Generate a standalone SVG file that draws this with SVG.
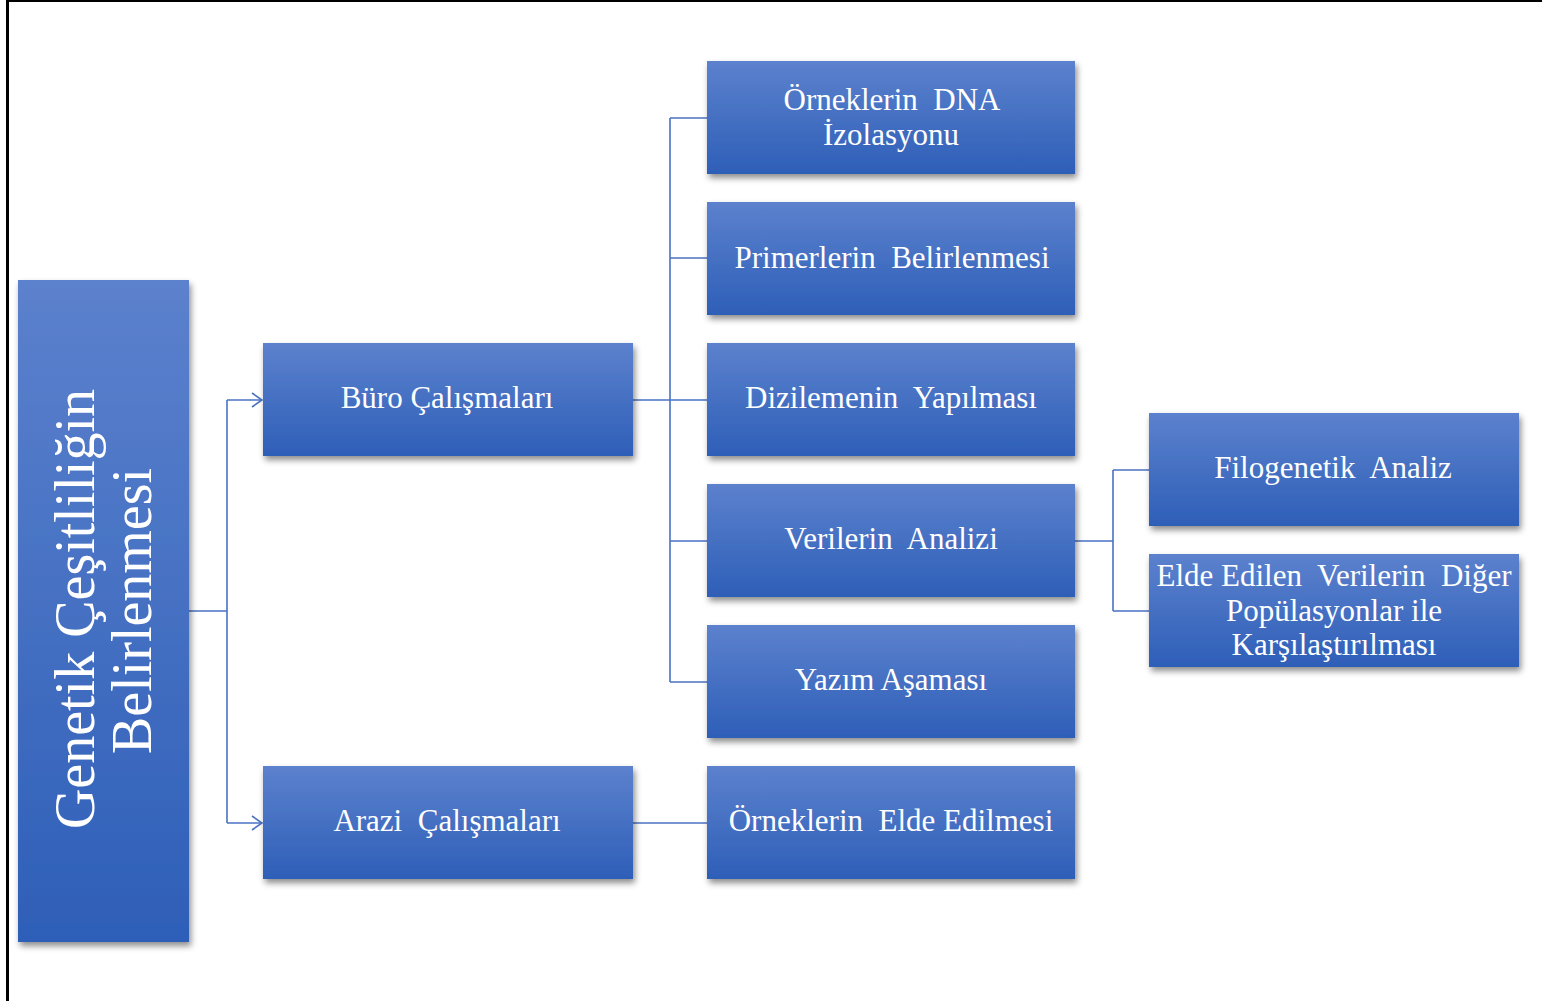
<svg xmlns="http://www.w3.org/2000/svg" width="1542" height="1001" viewBox="0 0 1542 1001">
<style>
.box{fill:url(#g);filter:url(#sh)}
.t{font-family:"Liberation Serif","Times New Roman",serif;font-size:31px;fill:#fff;text-anchor:middle;white-space:pre}
.big{font-size:56px}
.c{fill:none;stroke:#4a72c4;stroke-width:1.6}
</style>
<defs>
<linearGradient id="g" x1="0" y1="0" x2="0" y2="1">
<stop offset="0" stop-color="#5c81cd"/>
<stop offset="1" stop-color="#2e5fb8"/>
</linearGradient>
<filter id="sh" x="-10%" y="-10%" width="130%" height="130%">
<feDropShadow dx="2" dy="4" stdDeviation="3" flood-color="#000" flood-opacity="0.45"/>
</filter>
<marker id="ar" viewBox="0 0 12 16" refX="11" refY="8" markerWidth="12" markerHeight="16" markerUnits="userSpaceOnUse" orient="auto">
<path d="M1,1 L11,8 L1,15" fill="none" stroke="#4a72c4" stroke-width="1.6"/>
</marker>
</defs>
<rect width="1542" height="1001" fill="#fff"/>
<line x1="7.5" y1="0" x2="7.5" y2="1001" stroke="#000" stroke-width="3"/>
<line x1="6" y1="1" x2="1542" y2="1" stroke="#000" stroke-width="2"/>
<g id="connectors">
<path class="c" d="M189,611 H227 M227,400 V823"/>
<path class="c" d="M227,400 H262" marker-end="url(#ar)"/>
<path class="c" d="M227,823 H262" marker-end="url(#ar)"/>
<path class="c" d="M633,400 H707 M670,118 V682 M670,118 H707 M670,258 H707 M670,541 H707 M670,682 H707"/>
<path class="c" d="M633,823 H707"/>
<path class="c" d="M1075,541 H1113 M1113,470 V611 M1113,470 H1149 M1113,611 H1149"/>
</g>
<g id="n-root"><rect class="box" x="18" y="280" width="171" height="662"/>
<text class="t big" transform="translate(94,609) rotate(-90)">Genetik Çeşitliliğin</text>
<text class="t big" transform="translate(151,611) rotate(-90)">Belirlenmesi</text></g>
<g id="n-buro"><rect class="box" x="263" y="343" width="370" height="113"/><text class="t" x="447" y="408">Büro Çalışmaları</text></g>
<g id="n-arazi"><rect class="box" x="263" y="766" width="370" height="113"/><text class="t" x="447" y="831">Arazi  Çalışmaları</text></g>
<g id="n-dna"><rect class="box" x="707" y="61" width="368" height="113"/><text class="t" x="892" y="110">Örneklerin  DNA</text><text class="t" x="891" y="145">İzolasyonu</text></g>
<g id="n-primer"><rect class="box" x="707" y="202" width="368" height="113"/><text class="t" x="892" y="268">Primerlerin  Belirlenmesi</text></g>
<g id="n-dizi"><rect class="box" x="707" y="343" width="368" height="113"/><text class="t" x="891" y="408">Dizilemenin  Yapılması</text></g>
<g id="n-veri"><rect class="box" x="707" y="484" width="368" height="113"/><text class="t" x="891" y="549">Verilerin  Analizi</text></g>
<g id="n-yazim"><rect class="box" x="707" y="625" width="368" height="113"/><text class="t" x="891" y="690">Yazım Aşaması</text></g>
<g id="n-ornek"><rect class="box" x="707" y="766" width="368" height="113"/><text class="t" x="891" y="831">Örneklerin  Elde Edilmesi</text></g>
<g id="n-filo"><rect class="box" x="1149" y="413" width="370" height="113"/><text class="t" x="1333" y="478">Filogenetik  Analiz</text></g>
<g id="n-elde"><rect class="box" x="1149" y="554" width="370" height="113"/><text class="t" x="1334" y="586">Elde Edilen  Verilerin  Diğer</text><text class="t" x="1334" y="621">Popülasyonlar ile</text><text class="t" x="1334" y="655">Karşılaştırılması</text></g>
</svg>
